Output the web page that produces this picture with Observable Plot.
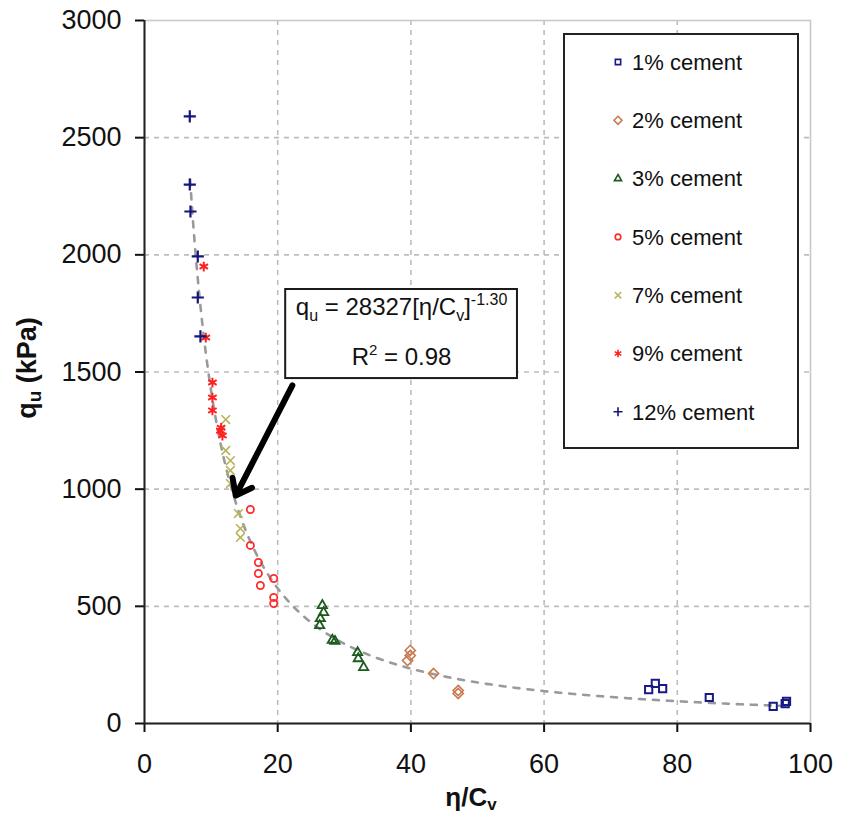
<!DOCTYPE html>
<html>
<head>
<meta charset="utf-8">
<script src="https://cdn.jsdelivr.net/npm/d3@7"></script>
<script src="https://cdn.jsdelivr.net/npm/@observablehq/plot@0.6"></script>
<style>
  body { margin: 0; background: #fff; }
  #chart { position: relative; width: 841px; height: 816px; font-family: "Liberation Sans", Arial, sans-serif; }
  #chart svg { display: block; }
  #legend { position: absolute; left: 563px; top: 33px; }
</style>
</head>
<body>
<div id="chart"></div>
<script>
// Mix labels, in legend order
const mixes = ["1% cement", "2% cement", "3% cement", "5% cement", "7% cement", "9% cement", "12% cement"];

// η/Cv and unconfined compressive strength qu (kPa) for each cement content
const cem1Eta = [75.7, 76.7, 77.8, 84.8, 94.4, 96.2, 96.4];
const cem1Qu  = [145, 171, 149, 111, 73, 85, 94];

const cem2Eta = [39.9, 39.9, 39.5, 43.4, 47.1, 47.1];
const cem2Qu  = [312, 290, 269, 213, 141, 128];

const cem3Eta = [26.7, 26.9, 26.4, 26.3, 28.2, 28.6, 32.0, 32.1, 32.9];
const cem3Qu  = [504, 474, 448, 418, 356, 351, 303, 277, 239];

const cem5Eta = [15.9, 15.9, 17.1, 17.1, 17.4, 19.4, 19.4, 19.4];
const cem5Qu  = [913, 760, 687, 640, 589, 619, 538, 512];

const cem7Eta = [12.2, 12.2, 12.9, 12.9, 12.9, 14.1, 14.4, 14.4];
const cem7Qu  = [1297, 1165, 1122, 1080, 1024, 896, 832, 794];

const cem9Eta = [8.9, 9.2, 10.2, 10.2, 10.2, 11.4, 11.5, 11.7];
const cem9Qu  = [1950, 1647, 1455, 1391, 1336, 1250, 1262, 1229];

const cem12Eta = [6.8, 6.8, 6.9, 8.0, 8.0, 8.4];
const cem12Qu  = [2591, 2300, 2185, 1993, 1818, 1652];

// Power-law fit stated on the chart: qu = 28327 (η/Cv)^-1.30, R² = 0.98
const fitCoef = 28327;
const fitExp = -1.30;
const fitRange = [6.85, 96.5];

// Axis ticks
const xTicks = [0, 20, 40, 60, 80, 100];
const yTicks = [0, 500, 1000, 1500, 2000, 2500, 3000];

// Equation box and the arrow pointing at the curve (data units)
const eqBox = [{x1: 21.2, x2: 56.0, y1: 1472, y2: 1852}];
const eqLines = ["qu = 28327[η/Cv]-1.30", "R2 = 0.98"];
const eqLineY = [1775, 1563];
const eqArrow = [{x1: 22.2, y1: 1443, x2: 13.7, y2: 973}];

const seriesEta = [cem1Eta, cem2Eta, cem3Eta, cem5Eta, cem7Eta, cem9Eta, cem12Eta];
const seriesQu  = [cem1Qu, cem2Qu, cem3Qu, cem5Qu, cem7Qu, cem9Qu, cem12Qu];

// Marker styling per mix
const markerColor = ["#1a1a86", "#c87a52", "#1d5a1d", "#ff2a2a", "#b9b45c", "#ff2020", "#15157c"];
const markerSymbol = [d3.symbolSquare2, d3.symbolDiamond2, d3.symbolTriangle2, d3.symbolCircle, d3.symbolTimes, d3.symbolAsterisk, d3.symbolPlus];
const markerR = [4.6, 4.6, 4.4, 3.6, 4.0, 4.6, 4.0];
const markerW = [2, 1.6, 1.8, 1.8, 1.6, 2.0, 2.2];

const dotMarks = mixes.map((m, k) =>
  Plot.dot(d3.range(seriesEta[k].length), {
    x: i => seriesEta[k][i],
    y: i => seriesQu[k][i],
    symbol: markerSymbol[k],
    r: markerR[k],
    stroke: markerColor[k],
    strokeWidth: markerW[k],
    fill: "none"
  })
);

const fitEta = d3.range(fitRange[0], fitRange[1], 0.25).concat([fitRange[1]]);

const plot = Plot.plot({
  width: 841,
  height: 816,
  marginLeft: 144,
  marginRight: 31,
  marginTop: 20,
  marginBottom: 93,
  style: {fontFamily: "'Liberation Sans', Arial, sans-serif", fontSize: "27px", color: "#111", background: "#fff"},
  x: {domain: [0, 100]},
  y: {domain: [0, 3000]},
  marks: [
    Plot.ruleX(xTicks.slice(1, -1), {stroke: "#bdbdbd", strokeWidth: 1.6, strokeDasharray: "5,5"}),
    Plot.ruleY(yTicks.slice(1, -1), {stroke: "#bdbdbd", strokeWidth: 1.6, strokeDasharray: "5,5"}),
    Plot.frame({stroke: "#c9c9c9", strokeWidth: 1.6}),
    Plot.line(fitEta, {x: d => d, y: d => fitCoef * Math.pow(d, fitExp), stroke: "#9a9a9a", strokeWidth: 2.6, strokeDasharray: "6,8"}),
    ...dotMarks,
    Plot.rect(eqBox, {x1: "x1", x2: "x2", y1: "y1", y2: "y2", fill: "#fff", stroke: "#1a1a1a", strokeWidth: 2}),
    Plot.text(eqLines, {x: (eqBox[0].x1 + eqBox[0].x2) / 2, y: (d, i) => eqLineY[i], text: d => d, fontSize: 24, fill: "#111", className: "fit-eq"}),
    Plot.arrow(eqArrow, {x1: "x1", y1: "y1", x2: "x2", y2: "y2", stroke: "#000", strokeWidth: 6, headLength: 4.5, headAngle: 75}),
    Plot.axisX({ticks: xTicks, tickSize: 9, tickPadding: 21, strokeWidth: 2, label: null, tickFormat: d => String(d)}),
    Plot.axisY({ticks: yTicks, tickSize: 9, tickPadding: 14, strokeWidth: 2, label: null, tickFormat: d => String(d)}),
    Plot.ruleX([0], {stroke: "#222", strokeWidth: 2}),
    Plot.ruleY([0], {stroke: "#222", strokeWidth: 2})
  ]
});

const chart = document.getElementById("chart");
chart.appendChild(plot);

// Rich text (sub/superscripts) for the equation lines
const eqTexts = plot.querySelectorAll(".fit-eq text");
if (eqTexts[0]) {
  eqTexts[0].innerHTML =
    'q<tspan dy="6" font-size="16">u</tspan><tspan dy="-6"> = 28327[η/C</tspan>' +
    '<tspan dy="6" font-size="16">v</tspan><tspan dy="-6">]</tspan>' +
    '<tspan dy="-10" font-size="16">-1.30</tspan>';
}
if (eqTexts[1]) {
  eqTexts[1].innerHTML =
    'R<tspan dy="-10" font-size="15">2</tspan><tspan dy="10"> = 0.98</tspan>';
}

// Axis titles
const svg = d3.select(plot);
svg.append("text")
  .attr("transform", "translate(36,368) rotate(-90)")
  .attr("text-anchor", "middle")
  .attr("font-size", 27).attr("font-weight", "bold").attr("fill", "#111")
  .html('q<tspan dy="5" font-size="19">u</tspan><tspan dy="-5"> (kPa)</tspan>');
svg.append("text")
  .attr("x", 471).attr("y", 806)
  .attr("text-anchor", "middle")
  .attr("font-size", 26).attr("font-weight", "bold").attr("fill", "#111")
  .html('η/C<tspan dy="4" font-size="17">v</tspan>');

// Legend box
const lg = d3.select(chart).append("svg")
  .attr("id", "legend")
  .attr("width", 236).attr("height", 416);
lg.append("rect")
  .attr("x", 1).attr("y", 1).attr("width", 234).attr("height", 414)
  .attr("fill", "#fff").attr("stroke", "#222").attr("stroke-width", 2);
const legendR = [3.4, 3.6, 3.4, 2.8, 3.0, 3.6, 3.0];
mixes.forEach((m, k) => {
  const cy = 29 + k * 58.3;
  lg.append("path")
    .attr("transform", `translate(55,${cy})`)
    .attr("d", d3.symbol(markerSymbol[k], Math.PI * legendR[k] * legendR[k])())
    .attr("fill", "none")
    .attr("stroke", markerColor[k])
    .attr("stroke-width", 1.6);
  lg.append("text")
    .attr("x", 69).attr("y", cy).attr("dy", "0.35em")
    .attr("font-size", 22)
    .attr("font-family", "'Liberation Sans', Arial, sans-serif")
    .attr("fill", "#111")
    .text(m);
});
</script>
</body>
</html>
